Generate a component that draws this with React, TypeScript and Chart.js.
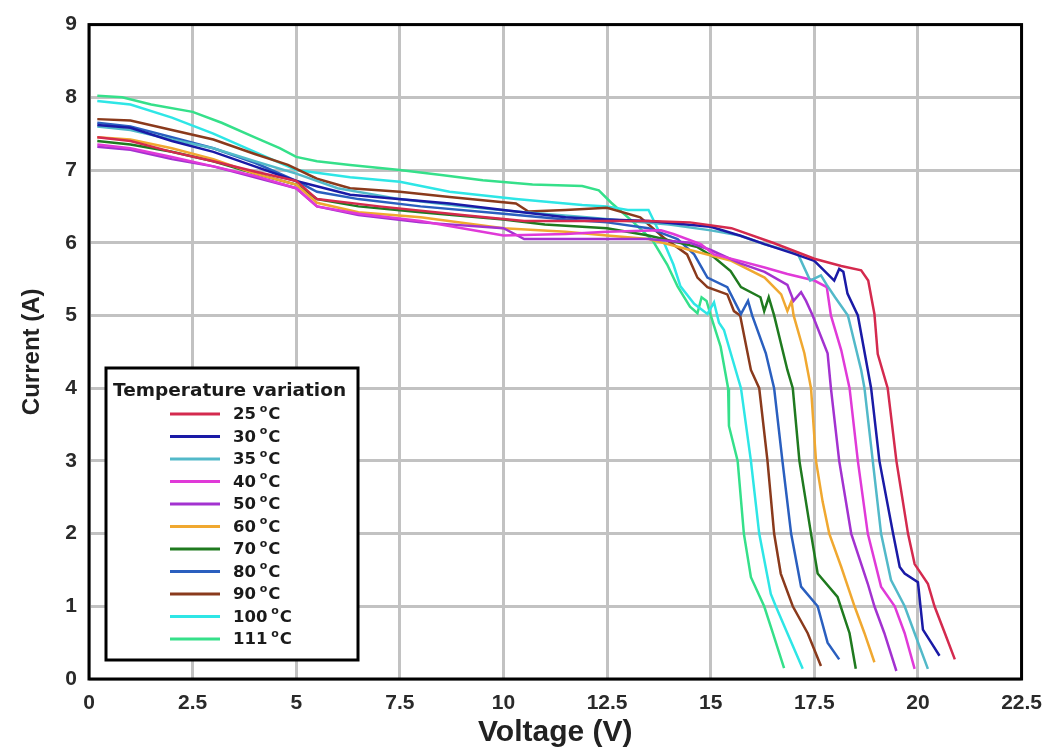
import React, { useEffect, useRef } from 'react';
import { Chart, registerables } from 'chart.js';

Chart.register(...registerables);

// Temperatures (°C) and series colours
const temps = [25, 30, 35, 40, 50, 60, 70, 80, 90, 100, 111];
const colors = ['#d42a4e', '#1a1aa6', '#52b9c9', '#e03ad8', '#a332d0', '#f0a830', '#1f7a1f', '#2a5fbf', '#8a3a1c', '#2ee6e6', '#35e08a'];

// Axis ticks
const xTickValues = [0, 2.5, 5, 7.5, 10, 12.5, 15, 17.5, 20, 22.5];
const yTickValues = [0, 1, 2, 3, 4, 5, 6, 7, 8, 9];

// Series: voltage (V) and current (A)
const v25 = [0.2, 1.0, 2.0, 3.0, 4.0, 5.0, 5.5, 7.0, 9.0, 10.5, 12.0, 13.5, 14.5, 15.5, 16.5, 17.5, 18.15, 18.63, 18.8, 18.95, 19.03, 19.27, 19.48, 19.76, 19.92, 20.24, 20.4, 20.65, 20.89];
const i25 = [7.45, 7.4, 7.25, 7.12, 6.98, 6.85, 6.6, 6.5, 6.38, 6.3, 6.3, 6.3, 6.28, 6.2, 6.0, 5.78, 5.68, 5.62, 5.48, 5.02, 4.47, 4.0, 3.0, 2.0, 1.58, 1.31, 1.0, 0.63, 0.27];

const v30 = [0.2, 1.0, 2.0, 3.0, 4.0, 5.0, 6.3, 8.7, 10.0, 11.5, 12.5, 13.5, 15.0, 15.7, 16.3, 17.0, 17.5, 17.98, 18.1, 18.2, 18.3, 18.55, 18.87, 19.07, 19.4, 19.56, 19.68, 20.0, 20.12, 20.32, 20.52];
const i30 = [7.62, 7.58, 7.4, 7.25, 7.05, 6.85, 6.66, 6.54, 6.45, 6.35, 6.32, 6.3, 6.22, 6.1, 5.98, 5.85, 5.75, 5.48, 5.64, 5.6, 5.3, 5.0, 4.0, 3.0, 2.0, 1.54, 1.45, 1.33, 0.68, 0.5, 0.32];

const v35 = [0.2, 1.0, 2.0, 3.0, 4.0, 5.0, 6.0, 7.5, 9.0, 10.5, 12.0, 13.0, 14.0, 15.0, 15.7, 16.3, 17.1, 17.4, 17.66, 17.8, 18.0, 18.31, 18.63, 18.71, 18.91, 19.11, 19.35, 19.68, 19.92, 20.24];
const i35 = [7.6, 7.55, 7.42, 7.3, 7.12, 6.95, 6.75, 6.6, 6.5, 6.42, 6.35, 6.3, 6.25, 6.17, 6.1, 5.98, 5.85, 5.48, 5.55, 5.42, 5.25, 5.0, 4.25, 4.0, 3.0, 2.0, 1.36, 1.0, 0.63, 0.14];

const v40 = [0.2, 1.0, 2.0, 3.0, 4.0, 5.0, 5.5, 6.5, 8.0, 10.0, 11.5, 12.5, 13.8, 14.1, 14.76, 15.08, 15.7, 16.3, 16.85, 17.5, 17.8, 17.9, 18.15, 18.35, 18.55, 18.79, 19.11, 19.44, 19.68, 19.92];
const i40 = [7.35, 7.3, 7.18, 7.05, 6.92, 6.75, 6.5, 6.4, 6.3, 6.1, 6.12, 6.15, 6.17, 6.12, 5.98, 5.84, 5.75, 5.66, 5.57, 5.48, 5.39, 5.0, 4.52, 4.0, 3.0, 2.0, 1.27, 1.0, 0.63, 0.14];

const v50 = [0.2, 1.0, 2.0, 3.0, 4.0, 5.0, 5.5, 6.5, 8.0, 10.0, 10.5, 12.0, 13.5, 14.5, 15.0, 15.7, 16.3, 16.85, 17.0, 17.18, 17.3, 17.46, 17.82, 17.9, 18.1, 18.39, 18.79, 18.95, 19.19, 19.48];
const i50 = [7.32, 7.28, 7.15, 7.05, 6.9, 6.75, 6.5, 6.38, 6.28, 6.2, 6.05, 6.05, 6.05, 6.0, 5.9, 5.72, 5.6, 5.42, 5.2, 5.32, 5.2, 5.0, 4.48, 4.0, 3.0, 2.0, 1.31, 1.0, 0.63, 0.11];

const v60 = [0.2, 1.0, 2.0, 3.0, 4.0, 5.0, 5.5, 6.5, 8.0, 10.0, 11.5, 12.5, 13.5, 14.5, 15.5, 16.3, 16.7, 16.85, 16.95, 17.0, 17.26, 17.42, 17.54, 17.7, 17.86, 18.15, 18.47, 18.71, 18.95];
const i60 = [7.45, 7.42, 7.3, 7.15, 6.95, 6.8, 6.55, 6.42, 6.35, 6.2, 6.15, 6.1, 6.05, 5.9, 5.75, 5.52, 5.29, 5.06, 5.2, 5.0, 4.48, 4.0, 3.0, 2.44, 2.0, 1.54, 1.0, 0.63, 0.23];

const v70 = [0.2, 1.0, 2.0, 3.0, 4.0, 5.0, 5.5, 6.5, 8.0, 10.0, 11.0, 12.5, 13.5, 14.68, 15.08, 15.48, 15.73, 16.2, 16.29, 16.4, 16.53, 16.85, 16.98, 17.14, 17.42, 17.58, 18.06, 18.35, 18.5];
const i70 = [7.4, 7.35, 7.25, 7.12, 6.95, 6.8, 6.6, 6.5, 6.42, 6.32, 6.25, 6.2, 6.1, 5.94, 5.8, 5.61, 5.39, 5.25, 5.06, 5.25, 5.0, 4.25, 4.0, 3.0, 2.0, 1.45, 1.13, 0.63, 0.14];

const v80 = [0.2, 1.0, 2.0, 3.0, 4.0, 5.0, 5.5, 6.5, 8.0, 10.0, 11.5, 12.5, 13.5, 14.2, 14.6, 14.92, 15.4, 15.73, 15.9, 16.0, 16.33, 16.53, 16.73, 16.94, 17.18, 17.58, 17.82, 18.1];
const i80 = [7.65, 7.6, 7.45, 7.3, 7.1, 6.85, 6.7, 6.6, 6.5, 6.4, 6.32, 6.28, 6.2, 6.05, 5.84, 5.52, 5.39, 5.02, 5.2, 5.0, 4.48, 4.0, 3.0, 2.0, 1.27, 1.0, 0.5, 0.27];

const v90 = [0.2, 1.0, 2.0, 3.0, 4.0, 4.8, 5.5, 6.3, 7.5, 8.7, 10.3, 10.6, 11.5, 12.5, 13.3, 13.87, 14.43, 14.68, 14.92, 15.4, 15.56, 15.71, 15.97, 16.17, 16.37, 16.53, 16.69, 16.98, 17.34, 17.66];
const i90 = [7.7, 7.68, 7.55, 7.42, 7.22, 7.07, 6.88, 6.75, 6.7, 6.63, 6.54, 6.43, 6.45, 6.48, 6.35, 6.07, 5.84, 5.52, 5.39, 5.29, 5.06, 5.0, 4.25, 4.0, 3.0, 2.0, 1.45, 1.0, 0.63, 0.18];

const v100 = [0.2, 1.0, 2.0, 3.0, 4.0, 5.0, 6.3, 7.5, 8.7, 10.3, 11.9, 12.5, 13.0, 13.5, 13.8, 14.1, 14.27, 14.6, 14.92, 15.08, 15.2, 15.32, 15.73, 15.97, 16.17, 16.45, 16.57, 16.85, 17.22];
const i100 = [7.95, 7.9, 7.72, 7.5, 7.25, 7.0, 6.9, 6.84, 6.7, 6.6, 6.52, 6.5, 6.45, 6.45, 6.1, 5.7, 5.4, 5.16, 5.02, 5.18, 4.9, 4.8, 4.0, 3.0, 2.0, 1.17, 1.0, 0.63, 0.14];

const v111 = [0.2, 0.8, 1.5, 2.5, 3.2, 4.0, 4.6, 5.0, 5.5, 6.3, 7.5, 8.5, 9.5, 10.7, 11.9, 12.3, 12.6, 13.1, 13.6, 13.95, 14.2, 14.5, 14.68, 14.78, 14.9, 15.0, 15.24, 15.42, 15.44, 15.65, 15.8, 15.97, 16.29, 16.5, 16.77];
const i111 = [8.02, 8.0, 7.9, 7.8, 7.65, 7.45, 7.3, 7.18, 7.12, 7.07, 7.0, 6.93, 6.86, 6.8, 6.78, 6.72, 6.55, 6.3, 6.03, 5.7, 5.4, 5.12, 5.03, 5.25, 5.2, 5.0, 4.57, 4.0, 3.48, 3.0, 2.0, 1.4, 1.0, 0.63, 0.15];

const voltages = [v25, v30, v35, v40, v50, v60, v70, v80, v90, v100, v111];
const currents = [i25, i30, i35, i40, i50, i60, i70, i80, i90, i100, i111];

const legendTitle = 'Temperature variation';
const xTitle = 'Voltage (V)';
const yTitle = 'Current (A)';

const tickFont = { family: '"Liberation Sans", Arial, sans-serif', size: 21, weight: 'bold' as const };

const framePlugin = {
  id: 'frame',
  afterDatasetsDraw(chart: any) {
    const { ctx, chartArea } = chart;
    const { left, top, right, bottom } = chartArea;
    ctx.save();
    ctx.strokeStyle = '#000';
    ctx.lineWidth = 3;
    ctx.strokeRect(left, top, right - left, bottom - top);
    ctx.restore();
  },
};

const legendPlugin = {
  id: 'customLegend',
  afterDraw(chart: any) {
    const { ctx } = chart;
    const bx = 106, by = 368, bw = 252, bh = 292;
    ctx.save();
    ctx.fillStyle = '#fff';
    ctx.fillRect(bx, by, bw, bh);
    ctx.strokeStyle = '#000';
    ctx.lineWidth = 3;
    ctx.strokeRect(bx, by, bw, bh);

    ctx.fillStyle = '#1a1a1a';
    ctx.textBaseline = 'middle';
    ctx.textAlign = 'left';
    ctx.font = 'bold 18.5px "DejaVu Sans", sans-serif';
    ctx.fillText(legendTitle, 113, 391);

    chart.data.datasets.forEach((ds: any, i: number) => {
      const y = 414 + i * 22.5;
      ctx.strokeStyle = ds.borderColor;
      ctx.lineWidth = 3;
      ctx.beginPath();
      ctx.moveTo(170, y);
      ctx.lineTo(220, y);
      ctx.stroke();
      ctx.fillStyle = '#1a1a1a';
      ctx.font = 'bold 16.5px "DejaVu Sans", sans-serif';
      const num = String(temps[i]) + ' ';
      ctx.fillText(num, 233, y + 1);
      const w = ctx.measureText(num).width;
      ctx.font = 'bold 11px "DejaVu Sans", sans-serif';
      ctx.fillText('o', 233 + w - 2, y - 5);
      const wo = ctx.measureText('o').width;
      ctx.font = 'bold 16.5px "DejaVu Sans", sans-serif';
      ctx.fillText('C', 233 + w - 2 + wo + 1, y + 1);
    });
    ctx.restore();
  },
};

export default function App() {
  const canvasRef = useRef<HTMLCanvasElement | null>(null);

  useEffect(() => {
    const canvas = canvasRef.current;
    if (!canvas) return;
    const datasets = temps.map((t, k) => ({
      label: `${t} °C`,
      data: voltages[k].map((v, j) => ({ x: v, y: currents[k][j] })),
      borderColor: colors[k],
      backgroundColor: colors[k],
      borderWidth: 2.5,
      pointRadius: 0,
      tension: 0,
      fill: false,
    }));

    const chart = new Chart(canvas, {
      type: 'line',
      data: { datasets },
      options: {
        responsive: false,
        animation: false,
        layout: { padding: { left: 0, top: 19, right: 32, bottom: 0 } },
        plugins: {
          legend: { display: false },
          tooltip: { enabled: false },
        },
        scales: {
          x: {
            type: 'linear',
            min: 0,
            max: 22.5,
            afterBuildTicks: (s: any) => {
              s.ticks = xTickValues.map((v) => ({ value: v }));
            },
            afterFit: (s: any) => {
              s.height = 72;
            },
            grid: { color: '#c2c2c2', lineWidth: 3, drawTicks: false },
            border: { display: false },
            ticks: { color: '#2a2a2a', font: tickFont, padding: 12, maxRotation: 0, autoSkip: false },
            title: {
              display: true,
              text: xTitle,
              color: '#222',
              font: { family: '"Liberation Sans", Arial, sans-serif', size: 30, weight: 'bold' },
              padding: { top: 0, bottom: 0 },
            },
          },
          y: {
            type: 'linear',
            min: 0,
            max: 9,
            afterBuildTicks: (s: any) => {
              s.ticks = yTickValues.map((v) => ({ value: v }));
            },
            afterFit: (s: any) => {
              s.width = 89;
            },
            grid: { color: '#c2c2c2', lineWidth: 3, drawTicks: false },
            border: { display: false },
            ticks: { color: '#2a2a2a', font: tickFont, padding: 12, autoSkip: false },
            title: {
              display: true,
              text: yTitle,
              color: '#222',
              font: { family: '"Liberation Sans", Arial, sans-serif', size: 24, weight: 'bold' },
              padding: { top: 18, bottom: 0 },
            },
          },
        },
      },
      plugins: [framePlugin, legendPlugin],
    });

    return () => {
      chart.destroy();
    };
  }, []);

  return (
    <div style={{ position: 'fixed', left: 0, top: 0, width: 1054, height: 751, background: '#fff' }}>
      <canvas ref={canvasRef} width={1054} height={751} style={{ width: 1054, height: 751, display: 'block' }} />
    </div>
  );
}
